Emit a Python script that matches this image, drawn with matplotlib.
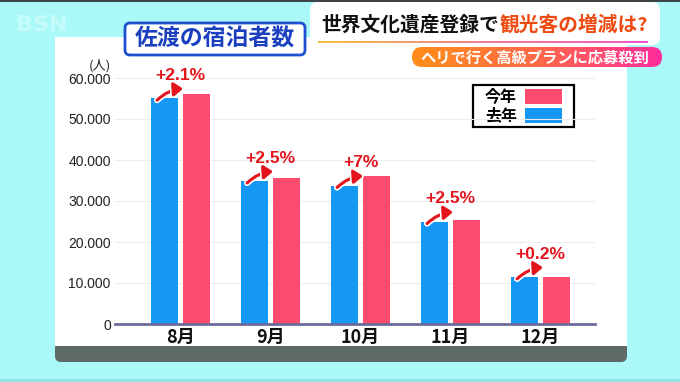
import numpy as np
import matplotlib
matplotlib.use("Agg")
import matplotlib.pyplot as plt
from matplotlib.patches import Rectangle, FancyBboxPatch, FancyArrowPatch
import matplotlib.patheffects as pe

plt.rcParams['font.family'] = ['Noto Sans CJK JP', 'DejaVu Sans']

# data
months = ['8月', '9月', '10月', '11月', '12月']
last_year = [55000, 34800, 33700, 24900, 11400]   # 去年
this_year = [56200, 35600, 36100, 25400, 11450]   # 今年
changes = ['+2.1%', '+2.5%', '+7%', '+2.5%', '+0.2%']
yticks = [0, 10000, 20000, 30000, 40000, 50000, 60000]

BLUE = '#1597f4'
PINK = '#fb4c70'
RED = '#e3141c'

W, H = 680, 382
fig = plt.figure(figsize=(W / 100, H / 100), dpi=100)
fig.patch.set_facecolor('#aaf8f8')

# decoration layer in pixel coordinates
bg = fig.add_axes([0, 0, 1, 1])
bg.set_xlim(0, W)
bg.set_ylim(H, 0)
bg.axis('off')

bg.add_patch(Rectangle((0, 0), W, 2, color='#3c4448', lw=0))
bg.add_patch(Rectangle((0, 379), W, 3, color='#8fe4e4', lw=0))
bg.add_patch(FancyBboxPatch((55, 300), 572, 62, boxstyle='round,pad=0,rounding_size=6',
                            fc='#5e6a68', ec='none'))
bg.add_patch(Rectangle((55, 37), 572, 309, fc='white', ec='none'))
bg.add_patch(FancyBboxPatch((310, 2), 350, 43, boxstyle='round,pad=0,rounding_size=8',
                            fc='white', ec='none'))

bg.text(42, 25, 'BSN', color='#c6fbfb', fontsize=16, fontweight='bold',
        family='DejaVu Sans', ha='center', va='center')

# chart title box
bg.add_patch(FancyBboxPatch((125, 23), 180, 32, boxstyle='round,pad=0,rounding_size=5',
                            fc='white', ec='#1d4fd0', lw=2))
bg.text(215, 39.5, '佐渡の宿泊者数', color='#1b3fbf', fontsize=16.5, fontweight='bold',
        ha='center', va='center')

# headline
bg.text(321, 25, '世界文化遺産登録で', color='#111111', fontsize=14.2, fontweight='bold',
        ha='left', va='center')
bg.text(500, 25, '観光客の増減は?', color='#ee4a12', fontsize=14.2, fontweight='bold',
        ha='left', va='center')
grad = np.linspace(0, 1, 256).reshape(1, -1)
cm_line = matplotlib.colors.LinearSegmentedColormap.from_list('l', ['#f2c23a', '#f27a9a', '#f05ac8'])
bg.imshow(grad, cmap=cm_line, extent=(318, 648, 43, 41), aspect='auto', zorder=2)

# sub headline pill
pill = FancyBboxPatch((412, 47), 250, 20, boxstyle='round,pad=0,rounding_size=10',
                      fc='none', ec='none')
bg.add_patch(pill)
cm_pill = matplotlib.colors.LinearSegmentedColormap.from_list('p', ['#ff8e1a', '#ff6a48', '#ff2c9c'])
im = bg.imshow(grad, cmap=cm_pill, extent=(412, 662, 67, 47), aspect='auto', zorder=2)
im.set_clip_path(pill)
bg.text(535, 57.5, 'ヘリで行く高級プランに応募殺到', color='white', fontsize=11,
        fontweight='bold', ha='center', va='center', zorder=3)

# unit label
bg.text(100, 66, '(人)', color='#222222', fontsize=9.5, ha='center', va='center')

# legend
bg.add_patch(Rectangle((473, 85), 101, 42, fc='white', ec='black', lw=1.6, zorder=2))
bg.add_patch(Rectangle((525, 89), 37, 15, fc=PINK, ec='none', zorder=3))
bg.add_patch(Rectangle((525, 108), 37, 15, fc=BLUE, ec='none', zorder=3))
bg.text(501, 96.5, '今年', fontsize=11.5, fontweight='bold', ha='center', va='center', zorder=3)
bg.text(501, 115.5, '去年', fontsize=11.5, fontweight='bold', ha='center', va='center', zorder=3)

# main chart
ax = fig.add_axes([115 / W, 58 / H, 480 / W, 246 / H])
ax.patch.set_alpha(0)
x = np.arange(len(months))
ax.bar(x - 0.178, last_year, 0.3, color=BLUE, zorder=3)
ax.bar(x + 0.178, this_year, 0.3, color=PINK, zorder=3)

ax.set_xlim(-0.728, 4.606)
ax.set_ylim(0, 60000)
ax.set_yticks(yticks)
ax.set_yticklabels([f"{v:,}".replace(',', '.') for v in yticks],
                   family='Liberation Sans', fontsize=10, color='#222222')
ax.set_xticks(x)
ax.set_xticklabels(months, fontsize=13, fontweight='bold', color='#111111')
ax.tick_params(axis='both', length=0)
ax.tick_params(axis='y', pad=3)
ax.tick_params(axis='x', pad=3)
ax.yaxis.grid(True, color='#ededed', lw=0.8, zorder=0)
for s in ['top', 'right', 'left']:
    ax.spines[s].set_visible(False)
ax.spines['bottom'].set_color('#6b6b9b')
ax.spines['bottom'].set_linewidth(2)
ax.spines['bottom'].set_zorder(4)

for i in range(len(months)):
    ax.annotate(changes[i], xy=(x[i], last_year[i]), xytext=(0, 16.5),
                textcoords='offset points', ha='center', va='center',
                color=RED, fontsize=12.5, fontweight='bold', family='Liberation Sans',
                zorder=6, annotation_clip=False)
    arr = FancyArrowPatch((x[i] - 0.26, last_year[i] - 400), (x[i] + 0.03, last_year[i] + 2400),
                          connectionstyle='arc3,rad=-0.18',
                          arrowstyle='-|>,head_length=5.5,head_width=4',
                          color=RED, lw=2.2, zorder=5, clip_on=False,
                          shrinkA=0, shrinkB=0)
    arr.set_path_effects([pe.withStroke(linewidth=4.5, foreground='white')])
    ax.add_patch(arr)

fig.savefig('out.png', dpi=100, facecolor=fig.get_facecolor())
